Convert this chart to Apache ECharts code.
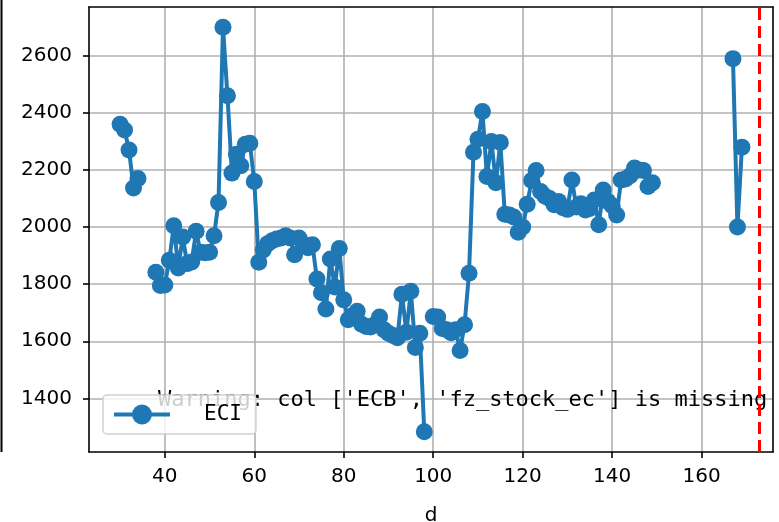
<!DOCTYPE html>
<html>
<head>
<meta charset="utf-8">
<script src="https://cdn.jsdelivr.net/npm/echarts@6/dist/echarts.min.js"></script>
<style>
  html, body { margin: 0; padding: 0; background: #fff; }
  #main { width: 779px; height: 522px; }
</style>
</head>
<body>
<div id="main"></div>
<script>
// d 值与 ECI，null 处断线
const days = [
  30, 31, 32, 33, 34, 35,
  38, 39, 40, 41, 42, 43, 44, 45, 46, 47, 48, 49, 50,
  51, 52, 53, 54, 55, 56, 57, 58, 59, 60,
  61, 62, 63, 64, 65, 66, 67, 68, 69, 70,
  71, 72, 73, 74, 75, 76, 77, 78, 79, 80,
  81, 82, 83, 84, 85, 86, 87, 88, 89, 90,
  91, 92, 93, 94, 95, 96, 97, 98, 99, 100,
  101, 102, 103, 104, 105, 106, 107, 108, 109, 110,
  111, 112, 113, 114, 115, 116, 117, 118, 119, 120,
  121, 122, 123, 124, 125, 126, 127, 128, 129, 130,
  131, 132, 133, 134, 135, 136, 137, 138, 139, 140,
  141, 142, 143, 144, 145, 146, 147, 148, 149, 150,
  167, 168, 169
];
const eci = [
  2360, 2340, 2270, 2137, 2170, null,
  1842, 1795, 1797, 1884, 2005, 1857, 1965, 1872, 1878, 1985, 1912, 1910, 1912,
  1970, 2086, 2700, 2460, 2189, 2255, 2215, 2290, 2294, 2160,
  1877, 1920, 1942, 1952, 1958, 1962, 1970, 1962, 1903, 1962,
  1940, 1928, 1938, 1818, 1770, 1713, 1888, 1790, 1925, 1745,
  1675, 1690, 1705, 1660, 1652, 1650, 1660, 1685, 1640, 1628,
  1620, 1612, 1765, 1632, 1775, 1578, 1628, 1283, null, 1687,
  1685, 1645, 1640, 1630, 1640, 1568, 1658, 1838, 2262, 2308,
  2405, 2177, 2300, 2155, 2296, 2045, 2042, 2035, 1982, 2000,
  2080, 2163, 2198, 2125, 2108, 2100, 2078, 2090, 2068, 2062,
  2165, 2070, 2082, 2060, 2065, 2095, 2008, 2130, 2090, 2075,
  2042, 2165, 2168, 2180, 2207, 2200, 2198, 2142, 2155, null,
  2590, 2000, 2280
];
const xTicks = [40, 60, 80, 100, 120, 140, 160];
const yTicks = [1400, 1600, 1800, 2000, 2200, 2400, 2600];
const cutoffDay = 172.8;
const warningText = "Warning: col ['ECB', 'fz_stock_ec'] is missing";

const chart = echarts.init(document.getElementById('main'), null, { renderer: 'canvas' });

const labelFont = { fontFamily: 'DejaVu Sans', fontSize: 20, color: '#000' };
const plain = (v) => String(v);

const option = {
  animation: false,
  backgroundColor: '#fff',
  grid: { left: 89, right: 6, top: 7, bottom: 70, show: false, outerBoundsMode: 'none', containLabel: false },
  legend: {
    left: 103,
    top: 395,
    padding: [9, 14, 9, 9],
    itemWidth: 56,
    itemHeight: 25,
    backgroundColor: 'rgba(255,255,255,0.8)',
    borderColor: '#d0d0d0',
    borderWidth: 1.5,
    borderRadius: 4,
    lineStyle: { width: 4 },
    textStyle: { fontFamily: 'DejaVu Sans Mono', fontSize: 21, color: '#000', padding: [0, 0, 0, 29] },
    z: 5,
    data: ['ECI']
  },
  xAxis: [
    {
      type: 'value',
      min: 23.05,
      max: 175.95,
      splitNumber: 8,
      name: 'd',
      nameLocation: 'middle',
      nameGap: 54,
      nameTextStyle: labelFont,
      axisLine: { show: true, onZero: false, lineStyle: { color: '#000', width: 1.6 } },
      axisTick: { show: true, length: 6, customValues: xTicks, lineStyle: { color: '#000', width: 1.6 } },
      axisLabel: { margin: 15, customValues: xTicks, formatter: plain, ...labelFont },
      splitLine: { show: true, lineStyle: { color: '#b0b0b0', width: 1.6 } },
      z: 0
    },
    {
      type: 'value',
      position: 'top',
      min: 23.05,
      max: 175.95,
      axisLine: { show: true, onZero: false, lineStyle: { color: '#000', width: 1.6 } },
      axisTick: { show: false },
      axisLabel: { show: false },
      splitLine: { show: false },
      z: 3
    }
  ],
  yAxis: [
    {
      type: 'value',
      min: 1212.15,
      max: 2770.85,
      splitNumber: 8,
      axisLine: { show: true, onZero: false, lineStyle: { color: '#000', width: 1.6 } },
      axisTick: { show: true, length: 6, customValues: yTicks, lineStyle: { color: '#000', width: 1.6 } },
      axisLabel: { margin: 17, customValues: yTicks, formatter: plain, ...labelFont },
      splitLine: { show: true, lineStyle: { color: '#b0b0b0', width: 1.6 } },
      z: 0
    },
    {
      type: 'value',
      position: 'right',
      min: 1212.15,
      max: 2770.85,
      axisLine: { show: true, onZero: false, lineStyle: { color: '#000', width: 1.6 } },
      axisTick: { show: false },
      axisLabel: { show: false },
      splitLine: { show: false },
      z: 3
    }
  ],
  series: [
    {
      name: 'ECI',
      type: 'line',
      data: days.map((d, i) => [d, eci[i]]),
      connectNulls: false,
      symbol: 'circle',
      symbolSize: 17,
      showSymbol: true,
      itemStyle: { color: '#1f77b4' },
      lineStyle: { color: '#1f77b4', width: 4 },
      z: 2,
      markLine: {
        silent: true,
        symbol: ['none', 'none'],
        label: { show: false },
        lineStyle: { color: '#ff0000', width: 3, type: [12, 6] },
        data: [{ xAxis: cutoffDay }]
      }
    }
  ],
  graphic: [
    {
      type: 'line',
      shape: { x1: 1.5, y1: 0, x2: 1.5, y2: 452 },
      style: { stroke: '#000', lineWidth: 2 }
    },
    {
      type: 'text',
      left: 158,
      top: 389,
      z: 3,
      style: {
        text: warningText,
        fontFamily: 'DejaVu Sans Mono',
        fontSize: 22,
        fill: '#000'
      }
    }
  ]
};

chart.setOption(option);
window.addEventListener('resize', () => chart.resize());
</script>
</body>
</html>
